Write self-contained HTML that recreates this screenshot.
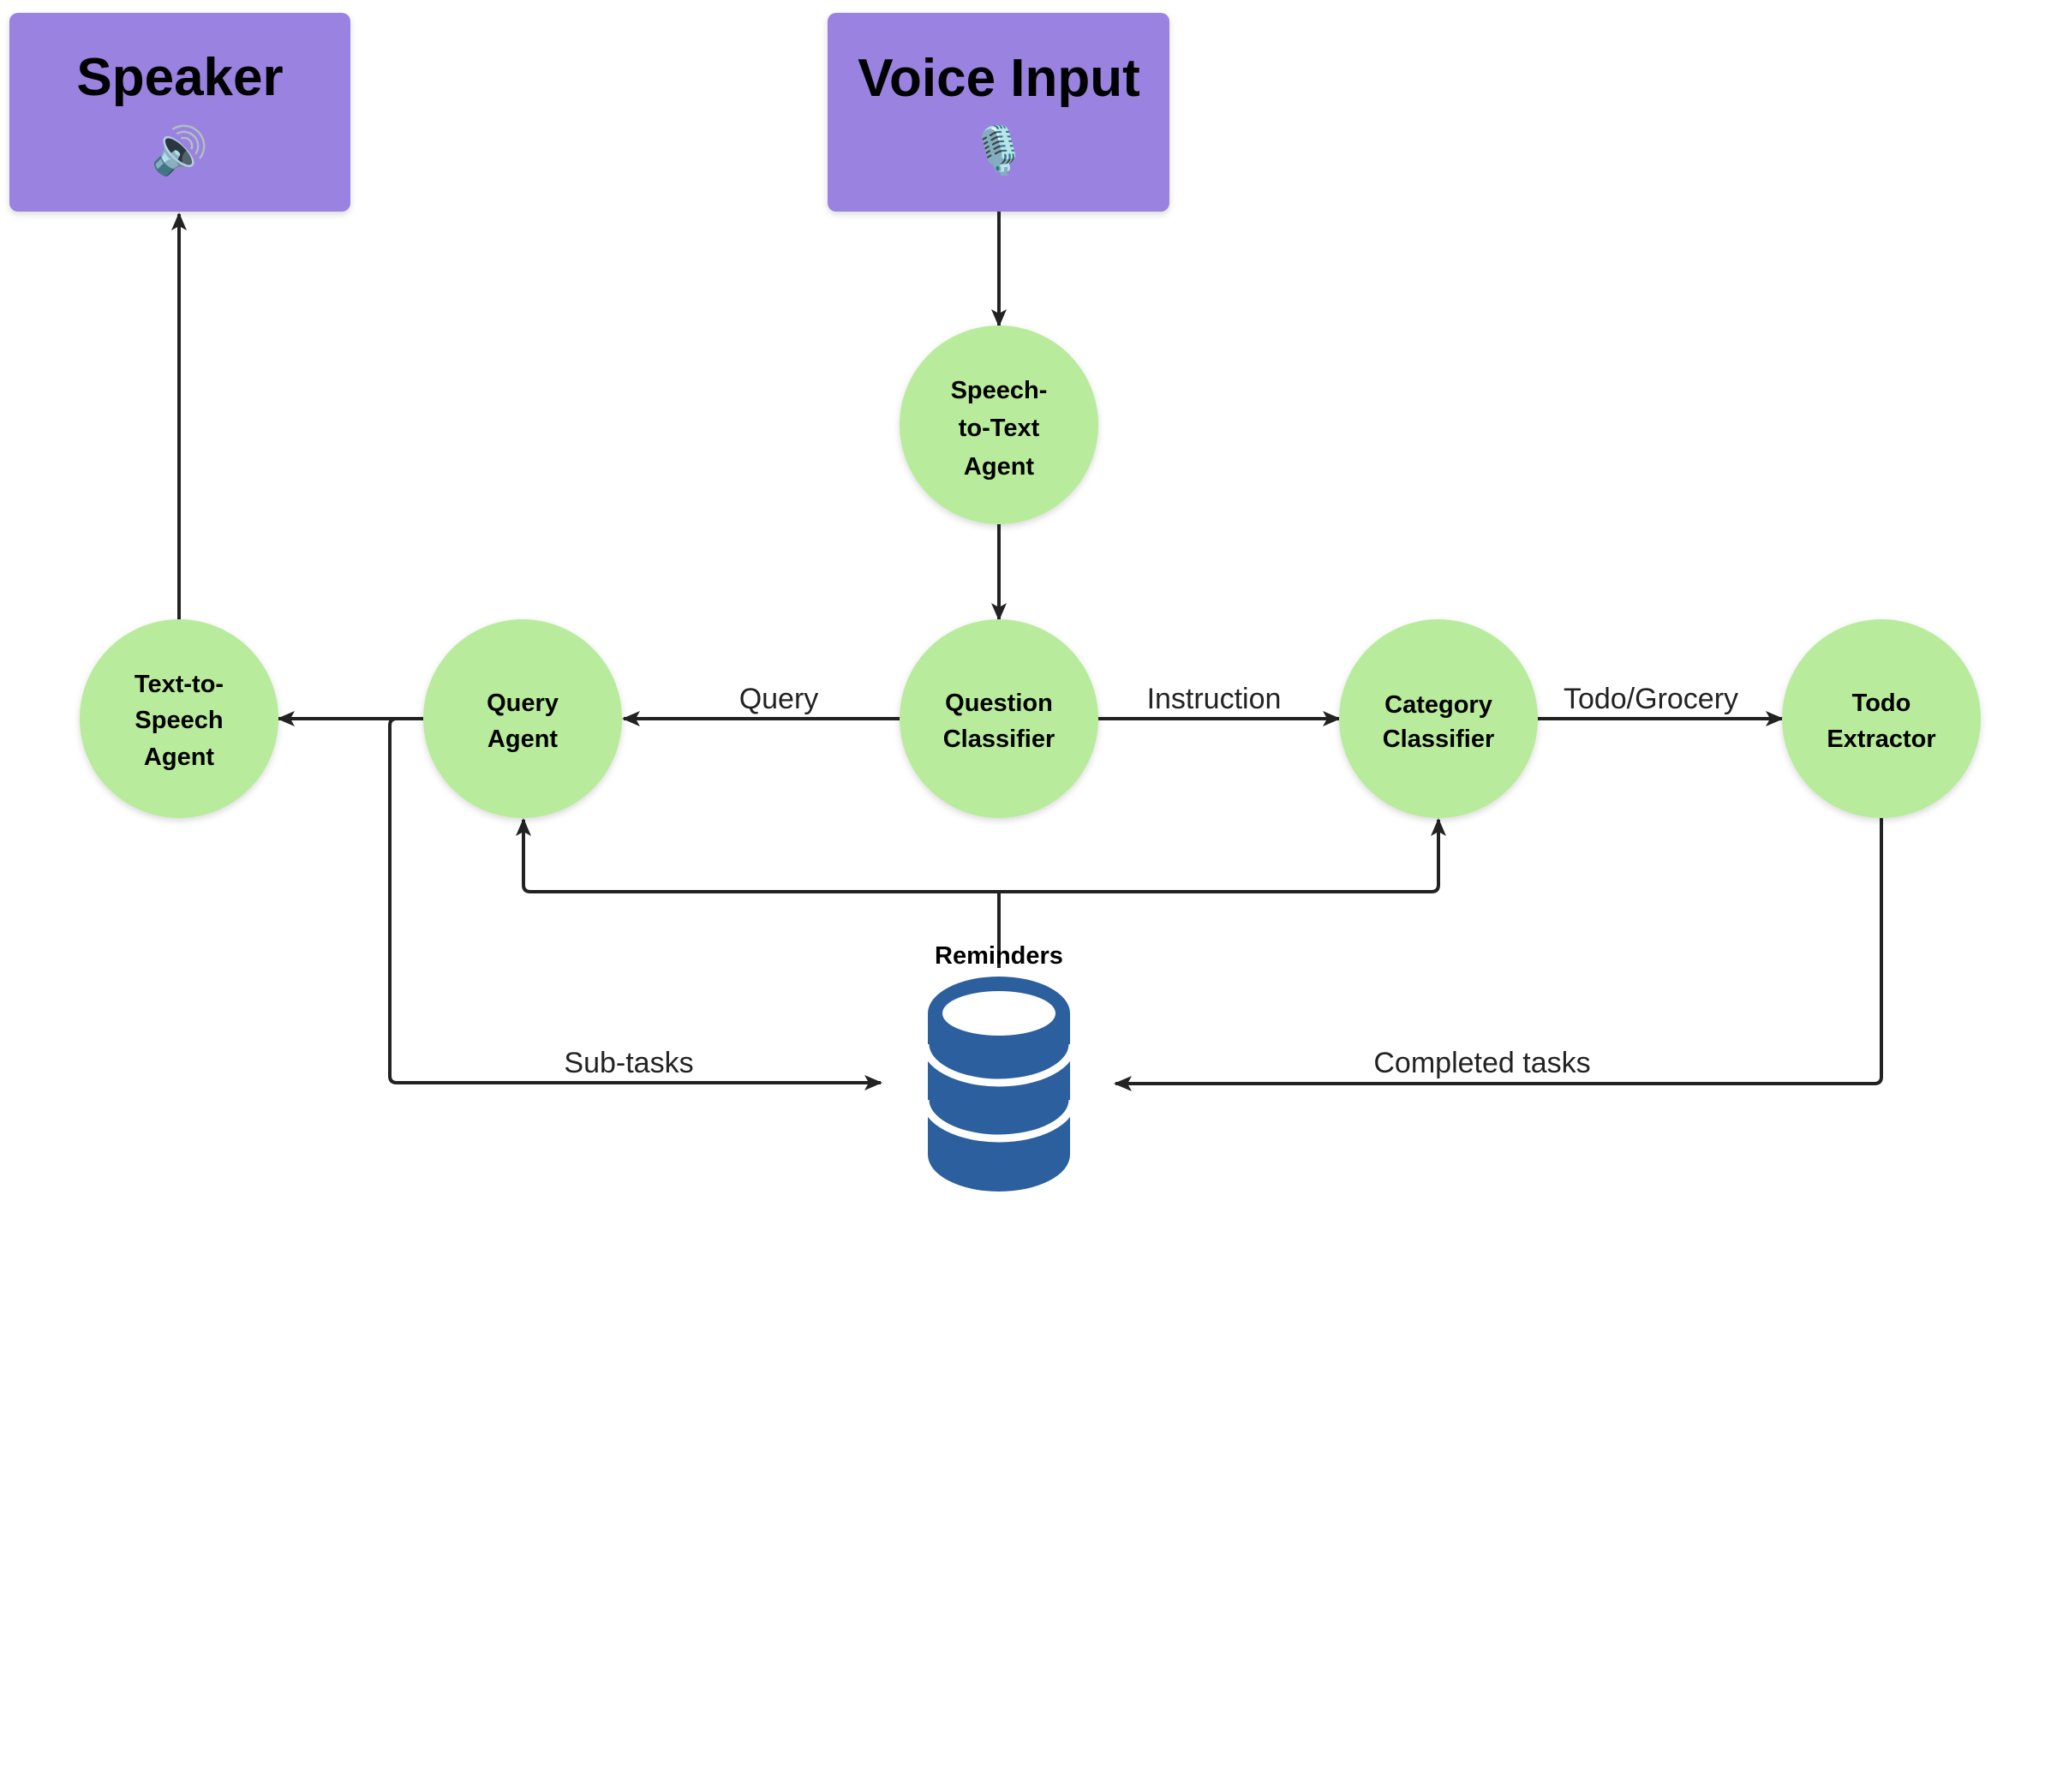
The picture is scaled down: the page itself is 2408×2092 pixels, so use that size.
<!DOCTYPE html>
<html><head><meta charset="utf-8"><style>
html,body{margin:0;padding:0;background:#fff}
svg{display:block}
text{font-family:"Liberation Sans",sans-serif}
.n{font-size:29px;font-weight:bold;fill:#000;text-anchor:middle}
.e{font-size:34px;fill:#222;text-anchor:middle}
</style></head><body>
<svg width="2408" height="2092" viewBox="0 0 2408 2092" xmlns="http://www.w3.org/2000/svg">
<defs>
<marker id="b" markerWidth="22" markerHeight="22" refX="19" refY="11" orient="auto" markerUnits="userSpaceOnUse" viewBox="0 0 22 22">
<path d="M0,2 L21,11 L0,20 L5,11 z" fill="#222"/></marker>
<filter id="s" x="-20%" y="-20%" width="140%" height="140%"><feDropShadow dx="0" dy="3" stdDeviation="4" flood-opacity="0.15"/></filter>
</defs>
<rect x="11" y="15" width="398" height="232" rx="10" fill="#9a82e0" filter="url(#s)"/>
<rect x="966" y="15" width="399" height="232" rx="10" fill="#9a82e0" filter="url(#s)"/>
<text x="210" y="111" font-size="62" font-weight="bold" text-anchor="middle" fill="#000">Speaker</text>
<text x="210" y="194" font-size="54" text-anchor="middle">🔊</text>
<text x="1166" y="112" font-size="62" font-weight="bold" text-anchor="middle" fill="#000">Voice Input</text>
<text x="1166" y="194" font-size="54" text-anchor="middle">🎙️</text>
<g stroke="#222" stroke-width="4" fill="none">
<path d="M1166 247 V380" marker-end="url(#b)"/>
<path d="M1166 612 V723" marker-end="url(#b)"/>
<path d="M209 723 V250" marker-end="url(#b)"/>
<path d="M1050 839 H728" marker-end="url(#b)"/>
<path d="M1282 839 H1563" marker-end="url(#b)"/>
<path d="M1795 839 H2080" marker-end="url(#b)"/>
<path d="M494 839 H325" marker-end="url(#b)"/>
<path d="M494 839 H463 Q455 839 455 847 V1256 Q455 1264 463 1264 H1028" marker-end="url(#b)"/>
<path d="M2196 955 V1257 Q2196 1265 2188 1265 H1302" marker-end="url(#b)"/>
<path d="M1166 1130 V1041 M1166 1041 H619 Q611 1041 611 1033 V957" marker-end="url(#b)"/>
<path d="M1166 1041 H1671 Q1679 1041 1679 1033 V957" marker-end="url(#b)"/>
</g>
<g fill="#b8eb9b" filter="url(#s)">
<circle cx="1166" cy="496" r="116"/>
<circle cx="209" cy="839" r="116"/>
<circle cx="610" cy="839" r="116"/>
<circle cx="1166" cy="839" r="116"/>
<circle cx="1679" cy="839" r="116"/>
<circle cx="2196" cy="839" r="116"/>
</g>
<text class="n" x="1166" y="465">Speech-</text>
<text class="n" x="1166" y="509">to-Text</text>
<text class="n" x="1166" y="554">Agent</text>
<text class="n" x="209" y="808">Text-to-</text>
<text class="n" x="209" y="850">Speech</text>
<text class="n" x="209" y="893">Agent</text>
<text class="n" x="610" y="830">Query</text>
<text class="n" x="610" y="872">Agent</text>
<text class="n" x="1166" y="830">Question</text>
<text class="n" x="1166" y="872">Classifier</text>
<text class="n" x="1679" y="832" font-size="27">Category</text>
<text class="n" x="1679" y="872" font-size="27">Classifier</text>
<text class="n" x="2196" y="830">Todo</text>
<text class="n" x="2196" y="872">Extractor</text>
<text class="e" x="909" y="827">Query</text>
<text class="e" x="1417" y="827">Instruction</text>
<text class="e" x="1927" y="827">Todo/Grocery</text>
<text class="e" x="734" y="1252">Sub-tasks</text>
<text class="e" x="1730" y="1252">Completed tasks</text>
<text class="n" x="1166" y="1125" font-size="34">Reminders</text>
<path d="M1083 1183 A83 43 0 0 1 1249 1183 V1348 A83 43 0 0 1 1083 1348 Z" fill="#2b5f9e"/>
<ellipse cx="1166" cy="1183" rx="66" ry="26" fill="#fff"/>
<g stroke="#fff" stroke-width="9" fill="none">
<path d="M1080 1219 A86 45 0 0 0 1252 1219"/>
<path d="M1080 1284 A86 45 0 0 0 1252 1284"/>
</g>
</svg>
</body></html>
